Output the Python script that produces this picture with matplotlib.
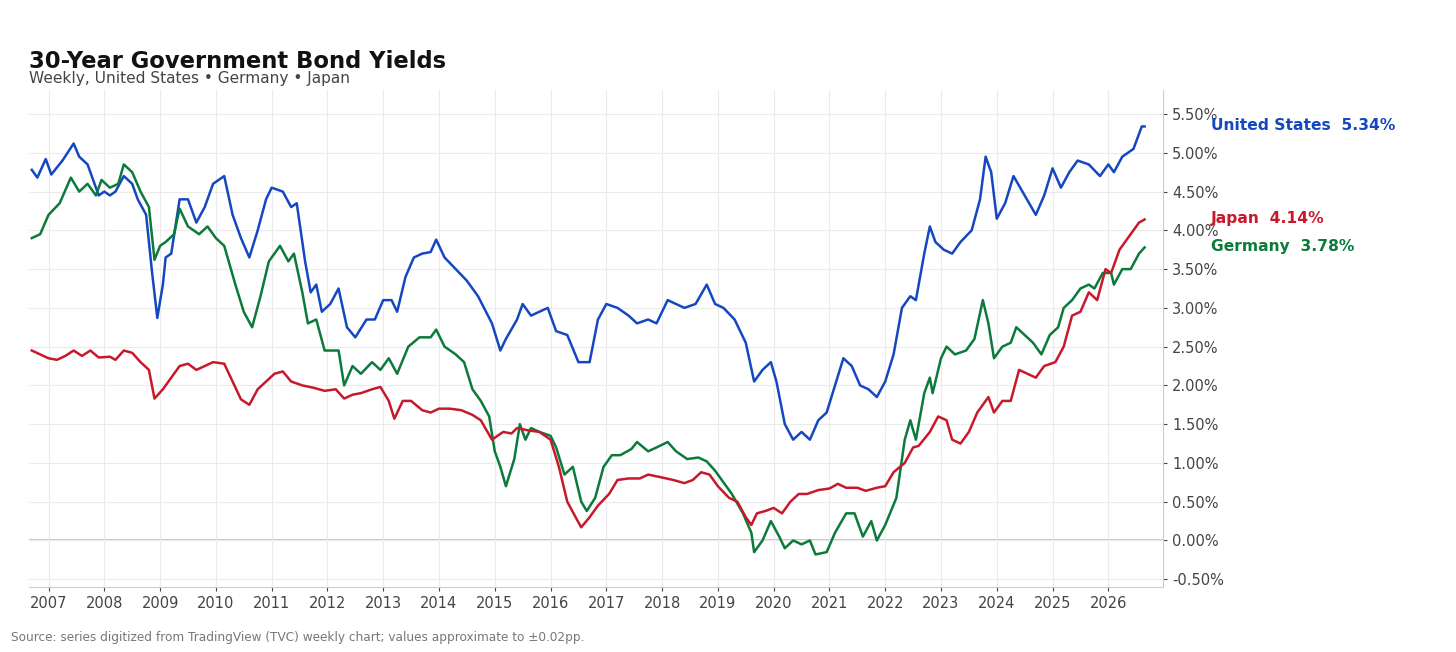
import matplotlib.pyplot as plt
from matplotlib.ticker import FuncFormatter, MultipleLocator

# ---- data (decimal years / percent) ----
us_t = [2006.7, 2006.8, 2006.95, 2007.05, 2007.25, 2007.45, 2007.55, 2007.7, 2007.9, 2008.0, 2008.1, 2008.2, 2008.35,
        2008.5, 2008.6, 2008.75, 2008.85, 2008.95, 2009.05, 2009.1, 2009.2, 2009.35, 2009.5, 2009.65, 2009.8, 2009.95,
        2010.15, 2010.3, 2010.45, 2010.6, 2010.75, 2010.9, 2011.0, 2011.2, 2011.35, 2011.45, 2011.6, 2011.7, 2011.8,
        2011.9, 2012.05, 2012.2, 2012.35, 2012.5, 2012.7, 2012.85, 2013.0, 2013.15, 2013.25, 2013.4, 2013.55, 2013.7,
        2013.85, 2013.95, 2014.1, 2014.3, 2014.5, 2014.7, 2014.95, 2015.1, 2015.2, 2015.4, 2015.5, 2015.65, 2015.8,
        2015.95, 2016.1, 2016.3, 2016.5, 2016.7, 2016.85, 2017.0, 2017.2, 2017.4, 2017.55, 2017.75, 2017.9, 2018.1,
        2018.25, 2018.4, 2018.6, 2018.8, 2018.95, 2019.1, 2019.3, 2019.5, 2019.65, 2019.8, 2019.95, 2020.05, 2020.2,
        2020.35, 2020.5, 2020.65, 2020.8, 2020.95, 2021.1, 2021.25, 2021.4, 2021.55, 2021.7, 2021.85, 2022.0, 2022.15,
        2022.3, 2022.45, 2022.55, 2022.7, 2022.8, 2022.9, 2023.05, 2023.2, 2023.35, 2023.55, 2023.7, 2023.8, 2023.9,
        2024.0, 2024.15, 2024.3, 2024.5, 2024.7, 2024.85, 2025.0, 2025.15, 2025.3, 2025.45, 2025.65, 2025.85, 2026.0,
        2026.1, 2026.25, 2026.45, 2026.6, 2026.65]
us_y = [4.78, 4.68, 4.92, 4.72, 4.9, 5.12, 4.95, 4.85, 4.45, 4.5, 4.45, 4.5, 4.7,
        4.6, 4.4, 4.2, 3.5, 2.87, 3.3, 3.65, 3.7, 4.4, 4.4, 4.1, 4.3, 4.6,
        4.7, 4.2, 3.9, 3.65, 4.0, 4.4, 4.55, 4.5, 4.3, 4.35, 3.6, 3.2, 3.3,
        2.95, 3.05, 3.25, 2.75, 2.62, 2.85, 2.85, 3.1, 3.1, 2.95, 3.4, 3.65, 3.7,
        3.72, 3.88, 3.65, 3.5, 3.35, 3.15, 2.8, 2.45, 2.6, 2.85, 3.05, 2.9, 2.95,
        3.0, 2.7, 2.65, 2.3, 2.3, 2.85, 3.05, 3.0, 2.9, 2.8, 2.85, 2.8, 3.1,
        3.05, 3.0, 3.05, 3.3, 3.05, 3.0, 2.85, 2.55, 2.05, 2.2, 2.3, 2.05, 1.5,
        1.3, 1.4, 1.3, 1.55, 1.65, 2.0, 2.35, 2.25, 2.0, 1.95, 1.85, 2.05, 2.4,
        3.0, 3.15, 3.1, 3.7, 4.05, 3.85, 3.75, 3.7, 3.85, 4.0, 4.4, 4.95, 4.75,
        4.15, 4.35, 4.7, 4.45, 4.2, 4.45, 4.8, 4.55, 4.75, 4.9, 4.85, 4.7, 4.85,
        4.75, 4.95, 5.05, 5.34, 5.34]

de_t = [2006.7, 2006.85, 2007.0, 2007.2, 2007.4, 2007.55, 2007.7, 2007.85, 2007.95, 2008.1, 2008.25, 2008.35, 2008.5,
        2008.65, 2008.8, 2008.9, 2009.0, 2009.1, 2009.25, 2009.35, 2009.5, 2009.7, 2009.85, 2010.0, 2010.15, 2010.35,
        2010.5, 2010.65, 2010.8, 2010.95, 2011.15, 2011.3, 2011.4, 2011.55, 2011.65, 2011.8, 2011.95, 2012.2, 2012.3,
        2012.45, 2012.6, 2012.8, 2012.95, 2013.1, 2013.25, 2013.45, 2013.65, 2013.85, 2013.95, 2014.1, 2014.3, 2014.45,
        2014.6, 2014.75, 2014.9, 2015.0, 2015.1, 2015.2, 2015.35, 2015.45, 2015.55, 2015.65, 2015.8, 2016.0, 2016.1,
        2016.25, 2016.4, 2016.55, 2016.65, 2016.8, 2016.95, 2017.1, 2017.25, 2017.45, 2017.55, 2017.75, 2017.9, 2018.1,
        2018.25, 2018.45, 2018.65, 2018.8, 2018.95, 2019.1, 2019.25, 2019.45, 2019.6, 2019.65, 2019.8, 2019.95, 2020.1,
        2020.2, 2020.35, 2020.5, 2020.65, 2020.75, 2020.95, 2021.1, 2021.3, 2021.45, 2021.6, 2021.75, 2021.85, 2022.0,
        2022.2, 2022.35, 2022.45, 2022.55, 2022.7, 2022.8, 2022.85, 2023.0, 2023.1, 2023.25, 2023.45, 2023.6, 2023.75,
        2023.85, 2023.95, 2024.1, 2024.25, 2024.35, 2024.5, 2024.65, 2024.8, 2024.95, 2025.1, 2025.2, 2025.35, 2025.5,
        2025.65, 2025.75, 2025.9, 2026.05, 2026.1, 2026.25, 2026.4, 2026.55, 2026.65]
de_y = [3.9, 3.95, 4.2, 4.35, 4.68, 4.5, 4.6, 4.45, 4.65, 4.55, 4.6, 4.85, 4.75,
        4.5, 4.3, 3.62, 3.8, 3.85, 3.95, 4.28, 4.05, 3.95, 4.05, 3.9, 3.8, 3.3,
        2.95, 2.75, 3.15, 3.6, 3.8, 3.6, 3.7, 3.2, 2.8, 2.85, 2.45, 2.45, 2.0,
        2.25, 2.15, 2.3, 2.2, 2.35, 2.15, 2.5, 2.62, 2.62, 2.72, 2.5, 2.4, 2.3,
        1.95, 1.8, 1.6, 1.15, 0.95, 0.7, 1.05, 1.5, 1.3, 1.45, 1.4, 1.35, 1.2,
        0.85, 0.95, 0.5, 0.38, 0.55, 0.95, 1.1, 1.1, 1.18, 1.27, 1.15, 1.2, 1.27,
        1.15, 1.05, 1.07, 1.02, 0.9, 0.75, 0.6, 0.35, 0.1, -0.15, 0.0, 0.25, 0.05,
        -0.1, 0.0, -0.05, 0.0, -0.18, -0.15, 0.1, 0.35, 0.35, 0.05, 0.25, 0.0, 0.2,
        0.55, 1.3, 1.55, 1.3, 1.9, 2.1, 1.9, 2.35, 2.5, 2.4, 2.45, 2.6, 3.1,
        2.8, 2.35, 2.5, 2.55, 2.75, 2.65, 2.55, 2.4, 2.65, 2.75, 3.0, 3.1, 3.25,
        3.3, 3.25, 3.45, 3.45, 3.3, 3.5, 3.5, 3.7, 3.78]

jp_t = [2006.7, 2006.85, 2007.0, 2007.15, 2007.3, 2007.45, 2007.6, 2007.75, 2007.9, 2008.1, 2008.2, 2008.35, 2008.5,
        2008.65, 2008.8, 2008.9, 2009.05, 2009.2, 2009.35, 2009.5, 2009.65, 2009.8, 2009.95, 2010.15, 2010.3, 2010.45,
        2010.6, 2010.75, 2010.9, 2011.05, 2011.2, 2011.35, 2011.55, 2011.75, 2011.95, 2012.15, 2012.3, 2012.45, 2012.6,
        2012.8, 2012.95, 2013.1, 2013.2, 2013.35, 2013.5, 2013.7, 2013.85, 2014.0, 2014.2, 2014.4, 2014.6, 2014.75,
        2014.95, 2015.15, 2015.3, 2015.4, 2015.6, 2015.8, 2016.0, 2016.15, 2016.3, 2016.45, 2016.55, 2016.7, 2016.85,
        2017.05, 2017.2, 2017.4, 2017.6, 2017.75, 2017.95, 2018.2, 2018.4, 2018.55, 2018.7, 2018.85, 2019.0, 2019.2,
        2019.35, 2019.5, 2019.6, 2019.7, 2019.85, 2020.0, 2020.15, 2020.3, 2020.45, 2020.6, 2020.8, 2021.0, 2021.15,
        2021.3, 2021.5, 2021.65, 2021.85, 2022.0, 2022.15, 2022.35, 2022.5, 2022.6, 2022.8, 2022.95, 2023.1, 2023.2,
        2023.35, 2023.5, 2023.65, 2023.85, 2023.95, 2024.1, 2024.25, 2024.4, 2024.55, 2024.7, 2024.85, 2025.05, 2025.2,
        2025.35, 2025.5, 2025.65, 2025.8, 2025.95, 2026.05, 2026.2, 2026.4, 2026.55, 2026.65]
jp_y = [2.45, 2.4, 2.35, 2.33, 2.38, 2.45, 2.38, 2.45, 2.36, 2.37, 2.33, 2.45, 2.42,
        2.3, 2.2, 1.83, 1.95, 2.1, 2.25, 2.28, 2.2, 2.25, 2.3, 2.28, 2.05, 1.82,
        1.75, 1.95, 2.05, 2.15, 2.18, 2.05, 2.0, 1.97, 1.93, 1.95, 1.83, 1.88, 1.9,
        1.95, 1.98, 1.8, 1.57, 1.8, 1.8, 1.68, 1.65, 1.7, 1.7, 1.68, 1.62, 1.55,
        1.3, 1.4, 1.38, 1.45, 1.42, 1.4, 1.3, 0.95, 0.5, 0.3, 0.17, 0.3, 0.45,
        0.6, 0.78, 0.8, 0.8, 0.85, 0.82, 0.78, 0.74, 0.78, 0.88, 0.85, 0.7, 0.55,
        0.5, 0.3, 0.2, 0.35, 0.38, 0.42, 0.35, 0.5, 0.6, 0.6, 0.65, 0.67, 0.73,
        0.68, 0.68, 0.64, 0.68, 0.7, 0.88, 1.0, 1.2, 1.22, 1.4, 1.6, 1.55, 1.3,
        1.25, 1.4, 1.65, 1.85, 1.65, 1.8, 1.8, 2.2, 2.15, 2.1, 2.25, 2.3, 2.5,
        2.9, 2.95, 3.2, 3.1, 3.5, 3.45, 3.75, 3.95, 4.1, 4.14]

US_C, DE_C, JP_C = '#1447c0', '#0b7a3a', '#c8192b'

fig = plt.figure(figsize=(14.56, 6.52), dpi=100)
ax = fig.add_axes([29 / 1456, 1 - 587 / 652, (1163 - 29) / 1456, (587 - 90) / 652])

ax.plot(us_t, us_y, color=US_C, lw=1.8)
ax.plot(de_t, de_y, color=DE_C, lw=1.8)
ax.plot(jp_t, jp_y, color=JP_C, lw=1.8)
ax.axhline(0, color='#cccccc', lw=1.5, zorder=0)

ax.set_xlim(2006.65, 2026.98)
ax.set_ylim(-0.6, 5.81)
ax.set_xticks(range(2007, 2027))
ax.yaxis.set_major_locator(MultipleLocator(0.5))
ax.yaxis.set_major_formatter(FuncFormatter(lambda v, p: f'{v:.2f}%'))
ax.yaxis.tick_right()
ax.grid(color='#ebebeb', lw=0.8)
ax.set_axisbelow(True)
for s in ['top', 'left']:
    ax.spines[s].set_visible(False)
for s in ['right', 'bottom']:
    ax.spines[s].set_color('#cccccc')
ax.tick_params(labelsize=10.5, colors='#444444', length=3)

for lbl, val, col, ypx in [('United States', 5.34, US_C, 126), ('Japan', 4.14, JP_C, 219), ('Germany', 3.78, DE_C, 246)]:
    fig.text(1211 / 1456, 1 - ypx / 652, f'{lbl}  {val:.2f}%', color=col, fontsize=11.2,
             fontweight='bold', va='center')

fig.text(29 / 1456, 1 - 61 / 652, '30-Year Government Bond Yields', fontsize=16.3, fontweight='bold',
         color='#111111', va='center')
fig.text(29 / 1456, 1 - 79 / 652, 'Weekly, United States \u2022 Germany \u2022 Japan', fontsize=11.1,
         color='#444444', va='center')
fig.text(11 / 1456, 1 - 638 / 652,
         'Source: series digitized from TradingView (TVC) weekly chart; values approximate to \u00b10.02pp.',
         fontsize=8.7, color='#777777', va='center')

fig.savefig('out.png', dpi=100)
